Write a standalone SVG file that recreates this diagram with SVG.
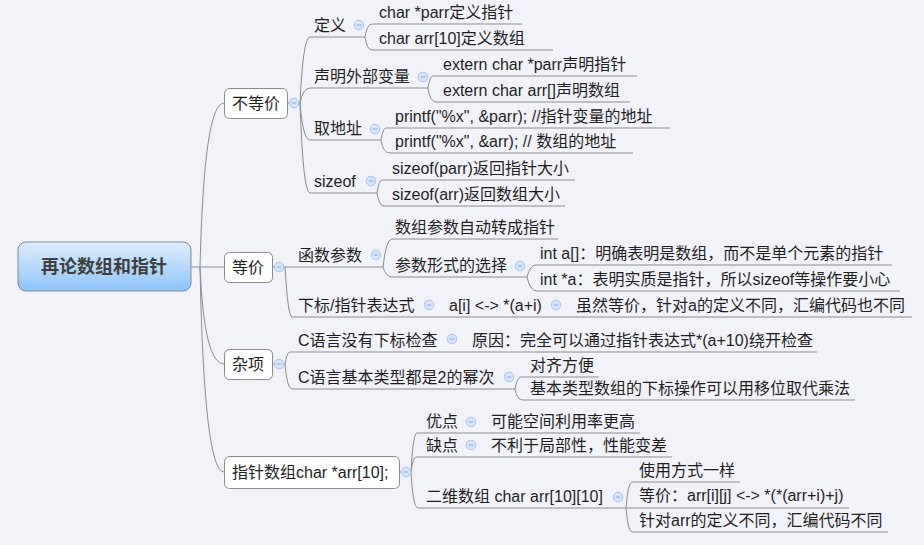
<svg xmlns="http://www.w3.org/2000/svg" width="924" height="545" viewBox="0 0 924 545">
<defs>
<linearGradient id="rootg" x1="0" y1="0" x2="0" y2="1">
<stop offset="0" stop-color="#deeefd"/>
<stop offset="1" stop-color="#8dc4f8"/>
</linearGradient>
<g id="col">
<circle r="4.8" fill="#d6e4fb" stroke="#aac3ee" stroke-width="1"/>
<line x1="-2.3" y1="0" x2="2.3" y2="0" stroke="#8da7d6" stroke-width="1"/>
</g>
</defs>
<style>
text{font-family:"Liberation Sans","Noto Sans CJK SC",sans-serif;font-size:16px;fill:#1e1e1e}
.root{font-size:18px;font-weight:bold;fill:#3e3e3e}
.box{fill:#ffffff;stroke:#8a8a8a;stroke-width:1}
.ul,.cn path{fill:none;stroke:#8c8c8c;stroke-width:1}
</style>
<rect width="924" height="545" fill="#f2f3f8"/>

<g id="connectors" class="cn">
<path d="M191,267 H200 M200,267 Q204,103 224,103 M200,267 H224 M200,267 Q204,364 224,364 M200,267 Q204,472 224,472"/>
<path d="M287,103 H300 M272,267 H285 M272,364 H285 M399,472 H411"/>
<path d="M300,103 Q303,37 310,37 M300,103 Q303,88 310,88 M300,103 Q303,140 310,140 M300,103 Q303,193 310,193"/>
<path d="M365,37 Q367,24 372,24 M365,37 Q367,50 372,50"/>
<path d="M428,88 Q430,76 433,76 M428,88 Q430,102 436,102"/>
<path d="M381,140 Q383,128 386,128 M381,140 Q383,153 390,153"/>
<path d="M377,193 Q379,180 382,180 M377,193 Q379,206 384,206"/>
<path d="M285,267 Q288,317 292,317"/>
<path d="M383,267 Q386,239 392,239 M383,267 Q386,277 392,277"/>
<path d="M527,277 Q530,265 536,265 M527,277 Q530,291 537,291"/>
<path d="M285,364 Q287,352 290,352 M285,364 Q287,389 292,389"/>
<path d="M515,389 Q517,377 521,377 M515,389 Q517,400 523,400"/>
<path d="M411,472 Q413,433 417,433 M411,472 Q413,457 416,457 M411,472 Q413,508 418,508"/>
<path d="M626,508 Q628,482 632,482 M626,508 Q628,532 632,532"/>
</g>

<g id="root">
<rect x="18" y="242" width="173" height="49" rx="8" fill="url(#rootg)" stroke="#7e8894" stroke-width="1"/>
<text class="root" x="104" y="273" text-anchor="middle">再论数组和指针</text>
</g>

<g id="b1">
<rect class="box" x="224.5" y="88.5" width="63" height="30" rx="5"/>
<text x="232" y="109">不等价</text>
<use href="#col" x="294" y="103"/>
</g>
<g id="b2">
<rect class="box" x="224.5" y="252.5" width="48" height="30" rx="5"/>
<text x="232" y="273">等价</text>
<use href="#col" x="279" y="267"/>
</g>
<g id="b3">
<rect class="box" x="224.5" y="349.5" width="48" height="30" rx="5"/>
<text x="232" y="370">杂项</text>
<use href="#col" x="279" y="364"/>
</g>
<g id="b4">
<rect class="box" x="224.5" y="456.5" width="175" height="32" rx="5"/>
<text x="232" y="478">指针数组char *arr[10];</text>
<use href="#col" x="406" y="472"/>
</g>

<g id="n1"><text x="314" y="31">定义</text><line class="ul" x1="310" y1="37" x2="365" y2="37"/><use href="#col" x="359" y="25"/></g>
<g id="n1a"><text x="379" y="18">char *parr定义指针</text><line class="ul" x1="372" y1="24" x2="522" y2="24"/></g>
<g id="n1b"><text x="379" y="44">char arr[10]定义数组</text><line class="ul" x1="372" y1="50" x2="553" y2="50"/></g>
<g id="n2"><text x="314" y="82">声明外部变量</text><line class="ul" x1="310" y1="88" x2="428" y2="88"/><use href="#col" x="423" y="77"/></g>
<g id="n2a"><text x="443" y="70">extern char *parr声明指针</text><line class="ul" x1="433" y1="76" x2="637" y2="76"/></g>
<g id="n2b"><text x="443" y="96">extern char arr[]声明数组</text><line class="ul" x1="436" y1="102" x2="630" y2="102"/></g>
<g id="n3"><text x="314" y="134">取地址</text><line class="ul" x1="310" y1="140" x2="381" y2="140"/><use href="#col" x="375" y="129"/></g>
<g id="n3a"><text x="395" y="122">printf("%x", &amp;parr); //指针变量的地址</text><line class="ul" x1="386" y1="128" x2="670" y2="128"/></g>
<g id="n3b"><text x="395" y="147">printf("%x", &amp;arr); // 数组的地址</text><line class="ul" x1="390" y1="153" x2="633" y2="153"/></g>
<g id="n4"><text x="314" y="187">sizeof</text><line class="ul" x1="310" y1="193" x2="377" y2="193"/><use href="#col" x="371" y="181"/></g>
<g id="n4a"><text x="392" y="174">sizeof(parr)返回指针大小</text><line class="ul" x1="382" y1="180" x2="575" y2="180"/></g>
<g id="n4b"><text x="392" y="200">sizeof(arr)返回数组大小</text><line class="ul" x1="384" y1="206" x2="565" y2="206"/></g>

<g id="n5"><text x="298" y="261">函数参数</text><line class="ul" x1="285" y1="267" x2="383" y2="267"/><use href="#col" x="376" y="255"/></g>
<g id="n5a"><text x="395" y="233">数组参数自动转成指针</text><line class="ul" x1="392" y1="239" x2="558" y2="239"/></g>
<g id="n5b"><text x="395" y="271">参数形式的选择</text><line class="ul" x1="392" y1="277" x2="527" y2="277"/><use href="#col" x="520" y="266"/></g>
<g id="n5b1"><text x="540" y="259">int a[]：明确表明是数组，而不是单个元素的指针</text><line class="ul" x1="536" y1="265" x2="892" y2="265"/></g>
<g id="n5b2"><text x="540" y="285">int *a：表明实质是指针，所以sizeof等操作要小心</text><line class="ul" x1="537" y1="291" x2="900" y2="291"/></g>
<g id="n6"><text x="298" y="311">下标/指针表达式</text><line class="ul" x1="292" y1="317" x2="440" y2="317"/><use href="#col" x="429" y="305"/></g>
<g id="n6a"><text x="449" y="311">a[i] &lt;-&gt; *(a+i)</text><line class="ul" x1="440" y1="317" x2="566" y2="317"/><use href="#col" x="556" y="305"/></g>
<g id="n6a1"><text x="576" y="311">虽然等价，针对a的定义不同，汇编代码也不同</text><line class="ul" x1="566" y1="317" x2="912" y2="317"/></g>

<g id="n7"><text x="298" y="346">C语言没有下标检查</text><line class="ul" x1="290" y1="352" x2="462" y2="352"/><use href="#col" x="452" y="339"/></g>
<g id="n7a"><text x="472" y="346">原因：完全可以通过指针表达式*(a+10)绕开检查</text><line class="ul" x1="462" y1="352" x2="817" y2="352"/></g>
<g id="n8"><text x="298" y="383">C语言基本类型都是2的幂次</text><line class="ul" x1="292" y1="389" x2="515" y2="389"/><use href="#col" x="509" y="377"/></g>
<g id="n8a"><text x="530" y="371">对齐方便</text><line class="ul" x1="521" y1="377" x2="599" y2="377"/></g>
<g id="n8b"><text x="530" y="394">基本类型数组的下标操作可以用移位取代乘法</text><line class="ul" x1="523" y1="400" x2="855" y2="400"/></g>

<g id="n9"><text x="426" y="427">优点</text><line class="ul" x1="417" y1="433" x2="481" y2="433"/><use href="#col" x="471" y="422"/></g>
<g id="n9a"><text x="491" y="427">可能空间利用率更高</text><line class="ul" x1="481" y1="433" x2="640" y2="433"/></g>
<g id="n10"><text x="426" y="451">缺点</text><line class="ul" x1="416" y1="457" x2="481" y2="457"/><use href="#col" x="471" y="445"/></g>
<g id="n10a"><text x="491" y="451">不利于局部性，性能变差</text><line class="ul" x1="481" y1="457" x2="672" y2="457"/></g>
<g id="n11"><text x="426" y="502">二维数组 char arr[10][10]</text><line class="ul" x1="418" y1="508" x2="626" y2="508"/><use href="#col" x="618" y="497"/></g>
<g id="n11a"><text x="639" y="476">使用方式一样</text><line class="ul" x1="632" y1="482" x2="740" y2="482"/></g>
<g id="n11b"><text x="639" y="501">等价：arr[i][j] &lt;-&gt; *(*(arr+i)+j)</text><line class="ul" x1="626" y1="508" x2="849" y2="508"/></g>
<g id="n11c"><text x="639" y="526">针对arr的定义不同，汇编代码不同</text><line class="ul" x1="632" y1="532" x2="888" y2="532"/></g>
</svg>
